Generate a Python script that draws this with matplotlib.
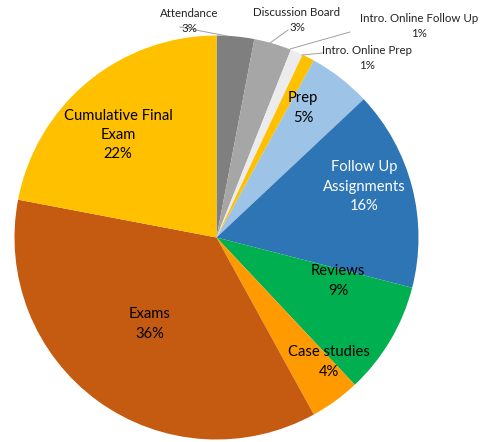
import matplotlib
matplotlib.use("Agg")
import matplotlib.pyplot as plt
import numpy as np

categories = ["Attendance", "Discussion Board", "Intro. Online Follow Up", "Intro. Online Prep",
              "Prep", "Follow Up\nAssignments", "Reviews", "Case studies", "Exams",
              "Cumulative Final\nExam"]
values = [3, 3, 1, 1, 5, 16, 9, 4, 36, 22]
colors = ["#7f7f7f", "#a6a6a6", "#ececec", "#ffc000", "#9dc3e6", "#2e75b6",
          "#00b050", "#ff9b00", "#c55a11", "#ffc000"]

plt.rcParams['font.family'] = ['Lato', 'DejaVu Sans']

W, H = 486, 442
fig = plt.figure(figsize=(W / 100, H / 100), dpi=100)
cx, cy, R = 216.5, 237.5, 202
ax = fig.add_axes([(cx - R) / W, (H - cy - R) / H, 2 * R / W, 2 * R / H])
wedges, _ = ax.pie(values, colors=colors, startangle=90, counterclock=False,
                   radius=1, wedgeprops=dict(linewidth=0))
ax.set_xlim(-1, 1)
ax.set_ylim(-1, 1)
ax.set_aspect('equal')
ax.axis('off')

def d(px, py):
    return ((px - cx) / R, (cy - py) / R)

# inside labels (pixel positions of label centres)
inside = {
    9: (118, 135, 'black'),
    8: (150, 324, 'black'),
    7: (329, 362, 'black'),
    6: (338, 281, 'black'),
    5: (364, 187, 'white'),
    4: (303, 108, 'black'),
}
for i, (px, py, c) in inside.items():
    x, y = d(px, py)
    ax.text(x, y, f"{categories[i]}\n{values[i]}%", ha='center', va='center',
            fontsize=10.6, color=c, linespacing=1.5, clip_on=False)

# outside labels with leader lines: (label center px, line start px, wedge point px)
outside = {
    0: ((189, 21), (180, 27), (227, 36)),
    1: ((297, 20), (288, 30), (270, 43)),
    2: ((419, 26), (350, 32), (290, 49)),
    3: ((367, 58), (323, 53), (302, 55)),
}
for i, (lab, ls, wp) in outside.items():
    x, y = d(*lab)
    ax.text(x, y, f"{categories[i]}\n{values[i]}%", ha='center', va='center',
            fontsize=8.3, color='#222222', linespacing=1.4, clip_on=False)
    x0, y0 = d(*ls)
    x1, y1 = d(*wp)
    ax.plot([x0, x1], [y0, y1], color='#a0a0a0', lw=0.7, clip_on=False)

fig.savefig("out.png", dpi=100, facecolor='white')
